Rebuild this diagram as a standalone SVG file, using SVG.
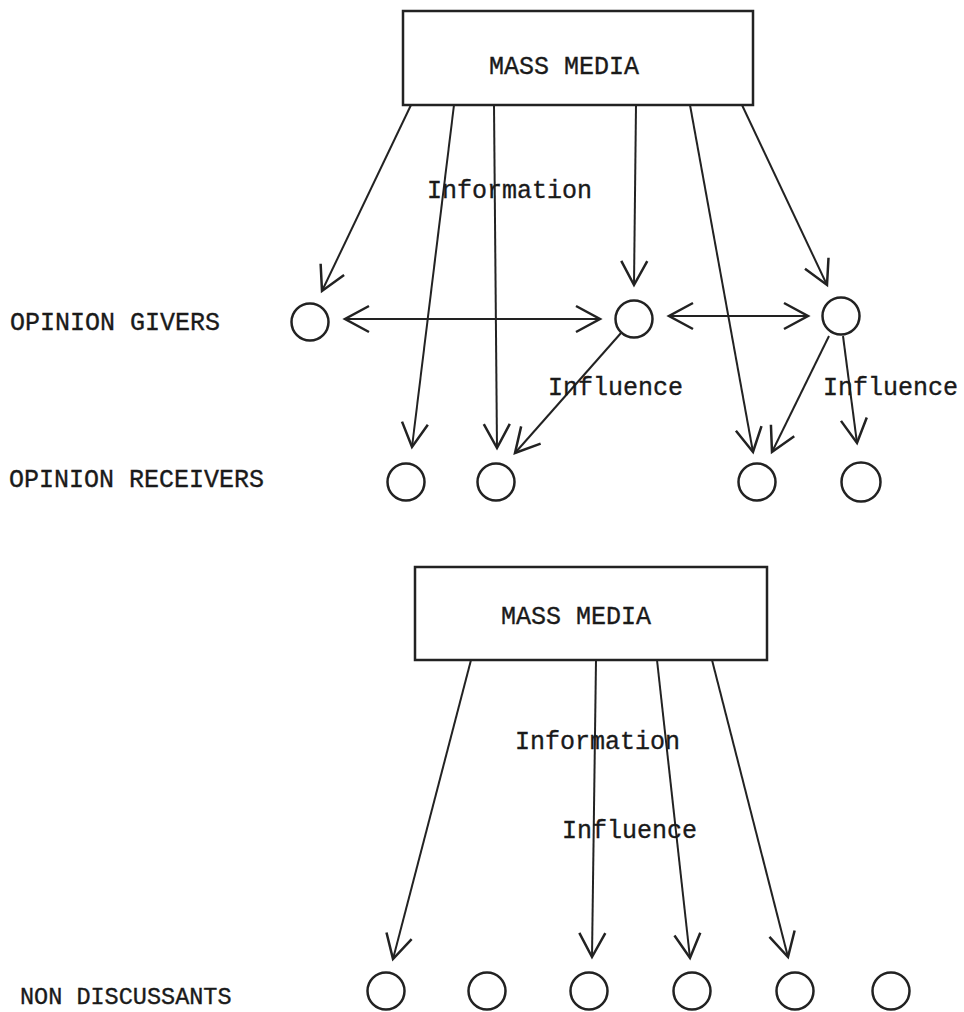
<svg xmlns="http://www.w3.org/2000/svg" width="964" height="1012" viewBox="0 0 964 1012">
<defs>
<style>
.box{fill:#fff;stroke:#222;stroke-width:2.5}
.node{fill:none;stroke:#222;stroke-width:2.5}
.t{font-family:"Liberation Mono","Courier New",monospace;font-size:25px;fill:#1a1a1a;stroke:#1a1a1a;stroke-width:0.35}
.c line{stroke:#222;stroke-width:2;fill:none;marker-end:url(#ah)}
.c line.both{marker-start:url(#ahs)}
</style>
<marker id="ah" markerUnits="userSpaceOnUse" viewBox="-30 -16 34 32" refX="0" refY="0" markerWidth="34" markerHeight="32" orient="auto">
<path d="M-24,-13 L0,0 L-24,13" fill="none" stroke="#222" stroke-width="2.5" stroke-linejoin="miter"/>
</marker>
<marker id="ahs" markerUnits="userSpaceOnUse" viewBox="-30 -16 34 32" refX="0" refY="0" markerWidth="34" markerHeight="32" orient="auto-start-reverse">
<path d="M-24,-13 L0,0 L-24,13" fill="none" stroke="#222" stroke-width="2.5" stroke-linejoin="miter"/>
</marker>
</defs>
<rect width="964" height="1012" fill="#fff"/>

<g id="labels">
<text class="t" x="10" y="330">OPINION GIVERS</text>
<text class="t" x="9" y="487">OPINION RECEIVERS</text>
<text class="t" x="20" y="1004" style="font-size:23.5px">NON DISCUSSANTS</text>
</g>

<g id="connectors" class="c">
<line x1="411" y1="105" x2="322" y2="291"/>
<line x1="454" y1="105" x2="412" y2="447"/>
<line x1="494" y1="105" x2="497" y2="448"/>
<line x1="636" y1="105" x2="634" y2="285"/>
<line x1="690" y1="105" x2="753" y2="452"/>
<line x1="742" y1="105" x2="827" y2="285"/>
<line class="both" x1="345" y1="319" x2="600" y2="319"/>
<line class="both" x1="669" y1="316" x2="808" y2="316"/>
<line x1="621" y1="333" x2="515" y2="453"/>
<line x1="829" y1="336" x2="772" y2="452"/>
<line x1="843" y1="336" x2="857" y2="443"/>
<line x1="471" y1="660" x2="393" y2="959"/>
<line x1="596" y1="660" x2="592" y2="957"/>
<line x1="657" y1="660" x2="690" y2="958"/>
<line x1="712" y1="660" x2="788" y2="957"/>
</g>

<g id="edge-labels">
<text class="t" x="427" y="198">Information</text>
<text class="t" x="548" y="395">Influence</text>
<text class="t" x="823" y="395">Influence</text>
<text class="t" x="515" y="749">Information</text>
<text class="t" x="562" y="838">Influence</text>
</g>

<g id="media-top">
<rect class="box" x="403" y="11" width="350" height="94"/>
<text class="t" x="564" y="74" text-anchor="middle">MASS MEDIA</text>
</g>
<g id="media-bottom">
<rect class="box" x="415" y="567" width="352" height="93"/>
<text class="t" x="576" y="624" text-anchor="middle">MASS MEDIA</text>
</g>

<g id="giver-1"><circle class="node" cx="310" cy="322" r="18.5"/></g>
<g id="giver-2"><circle class="node" cx="634" cy="319" r="18.5"/></g>
<g id="giver-3"><circle class="node" cx="841" cy="316" r="18.5"/></g>

<g id="receiver-1"><circle class="node" cx="406" cy="482" r="18.5"/></g>
<g id="receiver-2"><circle class="node" cx="496" cy="482" r="18.5"/></g>
<g id="receiver-3"><circle class="node" cx="757" cy="482" r="18.5"/></g>
<g id="receiver-4"><circle class="node" cx="861" cy="482" r="19.5"/></g>

<g id="non-1"><circle class="node" cx="386" cy="991" r="18.5"/></g>
<g id="non-2"><circle class="node" cx="487" cy="991" r="18.5"/></g>
<g id="non-3"><circle class="node" cx="589" cy="991" r="18.5"/></g>
<g id="non-4"><circle class="node" cx="692" cy="991" r="18.5"/></g>
<g id="non-5"><circle class="node" cx="795" cy="991" r="18.5"/></g>
<g id="non-6"><circle class="node" cx="891" cy="991" r="18.5"/></g>
</svg>
